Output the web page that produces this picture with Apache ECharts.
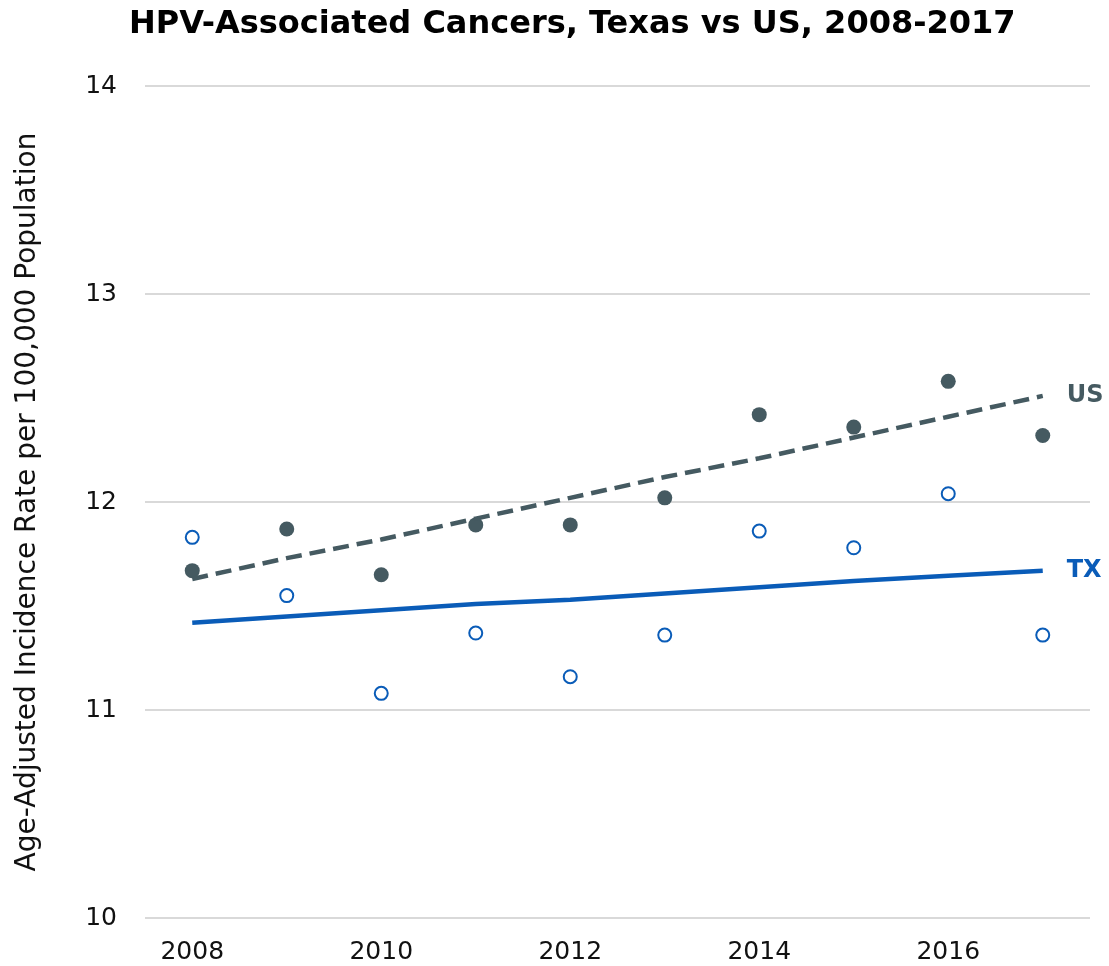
<!DOCTYPE html>
<html>
<head>
<meta charset="utf-8">
<script src="https://cdn.jsdelivr.net/npm/echarts@6/dist/echarts.min.js"></script>
<style>
html,body{margin:0;padding:0;background:#fff;}
#chart{width:1109px;height:966px;}
</style>
</head>
<body>
<div id="chart"></div>
<script>
// years on the x axis
var years = ['2008','2009','2010','2011','2012','2013','2014','2015','2016','2017'];
// observed rates (dots)
var usRates = [11.67, 11.87, 11.65, 11.89, 11.89, 12.02, 12.42, 12.36, 12.58, 12.32];
var txRates = [11.83, 11.55, 11.08, 11.37, 11.16, 11.36, 11.86, 11.78, 12.04, 11.36];
// fitted trend lines
var usTrend = [11.63, 11.73, 11.82, 11.92, 12.02, 12.12, 12.21, 12.31, 12.41, 12.51];
var txTrend = [11.42, 11.45, 11.48, 11.51, 11.53, 11.56, 11.59, 11.62, 11.645, 11.67];

var usColor = '#455a61';
var txColor = '#0a5cb8';
var font = 'DejaVu Sans';

var myChart = echarts.init(document.getElementById('chart'));
var option = {
	animation: false,
	backgroundColor: '#fff',
	title: {
		text: 'HPV-Associated Cancers, Texas vs US, 2008-2017',
		left: 124,
		top: 4,
		textStyle: {fontFamily: font, fontSize: 32, fontWeight: 'bold', color: '#000'}
	},
	grid: {left: 145, right: 19, top: 86, bottom: 48},
	xAxis: {
		type: 'category',
		data: years,
		boundaryGap: true,
		axisLine: {show: false},
		axisTick: {show: false},
		splitLine: {show: false},
		axisLabel: {interval: 1, fontFamily: font, fontSize: 25, color: '#111', margin: 22}
	},
	yAxis: {
		type: 'value',
		min: 10,
		max: 14,
		interval: 1,
		name: 'Age-Adjusted Incidence Rate per 100,000 Population',
		nameLocation: 'middle',
		nameGap: 103,
		nameTextStyle: {fontFamily: font, fontSize: 28, color: '#111'},
		axisLine: {show: false},
		axisTick: {show: false},
		splitLine: {lineStyle: {color: '#d9d9d9', width: 2}},
		axisLabel: {fontFamily: font, fontSize: 25, color: '#111', margin: 28}
	},
	series: [
		{
			name: 'US',
			type: 'scatter',
			data: usRates,
			symbol: 'circle',
			symbolSize: 15,
			itemStyle: {color: usColor, opacity: 1},
			z: 2
		},
		{
			name: 'TX',
			type: 'scatter',
			data: txRates,
			symbol: 'circle',
			symbolSize: 13,
			itemStyle: {color: '#fff', borderColor: txColor, borderWidth: 2, opacity: 1},
			z: 2
		},
		{
			name: 'US trend',
			type: 'line',
			data: usTrend,
			showSymbol: false,
			lineStyle: {color: usColor, width: 4.5, type: [16, 8]},
			endLabel: {show: true, formatter: 'US', distance: 24, color: usColor,
				fontFamily: font, fontSize: 24, fontWeight: 'bold'},
			z: 3
		},
		{
			name: 'TX trend',
			type: 'line',
			data: txTrend,
			showSymbol: false,
			lineStyle: {color: txColor, width: 4.5},
			endLabel: {show: true, formatter: 'TX', distance: 24, color: txColor,
				fontFamily: font, fontSize: 24, fontWeight: 'bold'},
			z: 3
		}
	]
};
myChart.setOption(option);
</script>
</body>
</html>
